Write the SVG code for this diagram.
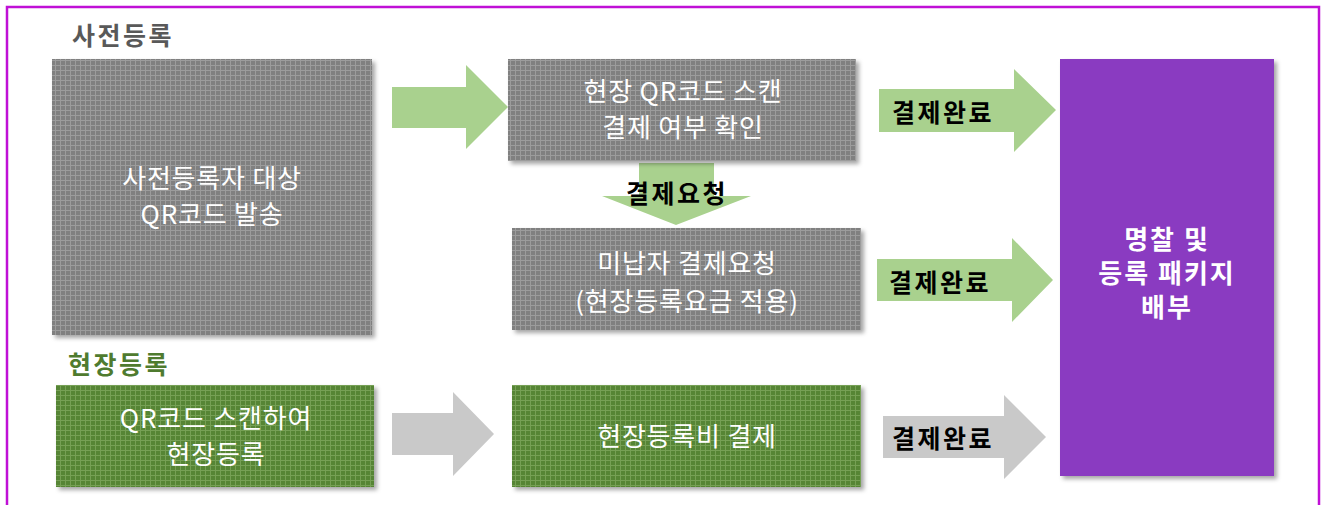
<svg xmlns="http://www.w3.org/2000/svg" width="1324" height="505" viewBox="0 0 1324 505">
<style>
  text { font-family: "Noto Sans CJK KR", "Noto Sans", sans-serif; text-anchor: middle; dominant-baseline: central; }
  .t { fill: #ffffff; font-size: 26px; font-weight: 400; letter-spacing: 0.8px; }
  .tb { fill: #ffffff; font-size: 26px; font-weight: 700; letter-spacing: 2px; }
  .lbl { fill: #000000; font-size: 25px; font-weight: 700; letter-spacing: 2.5px; }
  .h1 { fill: #595959; font-size: 25px; font-weight: 700; letter-spacing: 2.5px; text-anchor: start; }
  .h2 { fill: #4f7b2f; font-size: 25px; font-weight: 700; letter-spacing: 2.5px; text-anchor: start; }
  .ga { fill: #a9d18e; }
  .gr { fill: #c9c9c9; }
</style>
<defs>
  <pattern id="pg" width="5" height="5" patternUnits="userSpaceOnUse">
    <rect width="5" height="5" fill="#808080"/>
    <rect width="5" height="1" fill="#9c9c9c"/>
    <rect width="1" height="5" fill="#9c9c9c"/>
  </pattern>
  <pattern id="pv" width="5" height="5" patternUnits="userSpaceOnUse">
    <rect width="5" height="5" fill="#568535"/>
    <rect width="5" height="1" fill="#76a055"/>
    <rect width="1" height="5" fill="#76a055"/>
  </pattern>
  <filter id="sh" x="-5%" y="-5%" width="115%" height="115%">
    <feDropShadow dx="3" dy="3" stdDeviation="2" flood-color="#000" flood-opacity="0.35"/>
  </filter>
</defs>
<rect x="0" y="0" width="1324" height="505" fill="#ffffff"/>
<rect x="7" y="7" width="1312" height="510" fill="none" stroke="#c010d6" stroke-width="2.5"/>

<text class="h1" x="72" y="34">사전등록</text>
<text class="h2" x="68" y="363">현장등록</text>

<g id="connectors">
  <polygon class="ga" points="392,87 466,87 466,65 508,107 466,149 466,128 392,128"/>
  <polygon class="ga" points="639,163 714,163 714,196 751,196 676,225 602,196 639,196"/>
  <text class="lbl" x="677" y="192">결제요청</text>
  <polygon class="ga" points="879,89 1014,89 1014,69 1056,110 1014,152 1014,132 879,132"/>
  <text class="lbl" x="943" y="111">결제완료</text>
  <polygon class="ga" points="877,259 1012,259 1012,238 1053,280 1012,322 1012,301 877,301"/>
  <text class="lbl" x="940" y="281">결제완료</text>
  <polygon class="gr" points="392,413 453,413 453,392 494,434 453,476 453,455 392,455"/>
  <polygon class="gr" points="883,416 1004,416 1004,395 1046,437 1004,479 1004,458 883,458"/>
  <text class="lbl" x="943" y="437">결제완료</text>
</g>

<g id="node-pre">
  <rect x="52" y="59" width="320" height="276" fill="url(#pg)" filter="url(#sh)"/>
  <text class="t" x="212" y="176">사전등록자 대상</text>
  <text class="t" x="212" y="212">QR코드 발송</text>
</g>
<g id="node-scan">
  <rect x="508" y="59" width="348" height="102" fill="url(#pg)" filter="url(#sh)"/>
  <text class="t" x="683" y="89">현장 QR코드 스캔</text>
  <text class="t" x="683" y="125">결제 여부 확인</text>
</g>
<g id="node-unpaid">
  <rect x="512" y="228" width="349" height="102" fill="url(#pg)" filter="url(#sh)"/>
  <text class="t" x="687" y="261">미납자 결제요청</text>
  <text class="t" x="687" y="299">(현장등록요금 적용)</text>
</g>
<g id="node-onsite">
  <rect x="56" y="385" width="318" height="102" fill="url(#pv)" filter="url(#sh)"/>
  <text class="t" x="216" y="416">QR코드 스캔하여</text>
  <text class="t" x="216" y="452">현장등록</text>
</g>
<g id="node-fee">
  <rect x="512" y="385" width="349" height="102" fill="url(#pv)" filter="url(#sh)"/>
  <text class="t" x="687" y="434">현장등록비 결제</text>
</g>
<g id="node-badge">
  <rect x="1060" y="59" width="214" height="417" fill="#8a3bc1" filter="url(#sh)"/>
  <text class="tb" x="1167" y="237">명찰 및</text>
  <text class="tb" x="1167" y="271">등록 패키지</text>
  <text class="tb" x="1167" y="305">배부</text>
</g>
</svg>
